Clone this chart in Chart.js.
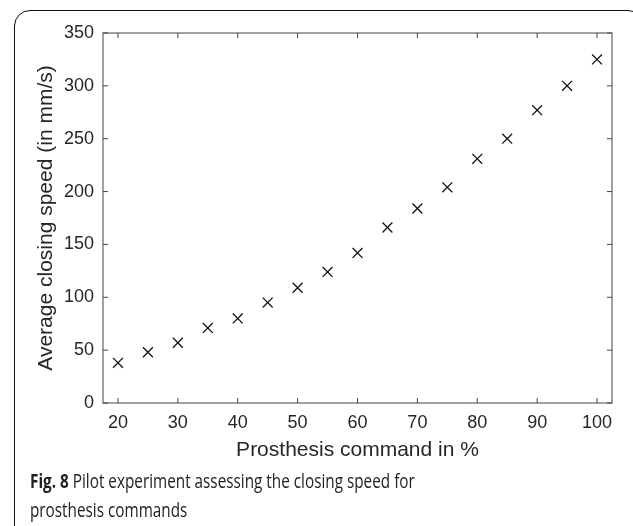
<!DOCTYPE html>
<html>
<head>
<meta charset="utf-8">
<script src="https://cdn.jsdelivr.net/npm/chart.js@4.4.1/dist/chart.umd.min.js"></script>
<style>
  body { margin: 0; background: #fff; width: 633px; height: 526px; overflow: hidden; position: relative; }
  #frame { position: absolute; left: 14px; top: 10px; width: 630px; height: 560px;
           border: 1.5px solid #111; border-radius: 16px; box-sizing: border-box; }
  #wrap { position: absolute; left: 0; top: 0; width: 633px; height: 470px; }
  #caption { position: absolute; left: 30px; top: 466px; font-family: "Open Sans", sans-serif;
             font-size: 20px; line-height: 29px; color: #222; white-space: nowrap;
             transform: scaleX(0.765); transform-origin: left top; }
  #caption b { font-weight: 700; }
</style>
</head>
<body>
<div id="frame"></div>
<div id="wrap"><canvas id="speedChart"></canvas></div>
<div id="caption"><b>Fig. 8</b> Pilot experiment assessing the closing speed for<br>prosthesis commands</div>
<script>
const commands = [20, 25, 30, 35, 40, 45, 50, 55, 60, 65, 70, 75, 80, 85, 90, 95, 100];
const closingSpeeds = [38, 48, 57, 71, 80, 95, 109, 124, 142, 166, 184, 204, 231, 250, 277, 300, 325];
const xTicks = [20, 30, 40, 50, 60, 70, 80, 90, 100];
const yTicks = [0, 50, 100, 150, 200, 250, 300, 350];

const axisColor = '#444';
const textColor = '#262626';

// box around the plot + inward ticks on all four sides (matlab style)
const boxPlugin = {
  id: 'boxTicks',
  afterDatasetsDraw(chart) {
    const {ctx, chartArea: a, scales} = chart;
    const len = 5;
    ctx.save();
    ctx.strokeStyle = axisColor;
    ctx.lineWidth = 1;
    ctx.strokeRect(a.left, a.top, a.right - a.left, a.bottom - a.top);
    ctx.beginPath();
    xTicks.forEach(v => {
      const px = scales.x.getPixelForValue(v);
      ctx.moveTo(px, a.bottom); ctx.lineTo(px, a.bottom - len);
      ctx.moveTo(px, a.top); ctx.lineTo(px, a.top + len);
    });
    yTicks.forEach(v => {
      const py = scales.y.getPixelForValue(v);
      ctx.moveTo(a.left, py); ctx.lineTo(a.left + len, py);
      ctx.moveTo(a.right, py); ctx.lineTo(a.right - len, py);
    });
    ctx.stroke();
    ctx.restore();
  }
};

new Chart(document.getElementById('speedChart'), {
  type: 'scatter',
  data: {
    datasets: [{
      data: commands.map((c, i) => ({x: c, y: closingSpeeds[i]})),
      pointStyle: 'crossRot',
      pointRadius: 7,
      borderColor: '#111',
      borderWidth: 1.3,
      backgroundColor: '#111'
    }]
  },
  options: {
    responsive: true,
    maintainAspectRatio: false,
    animation: false,
    layout: { padding: { left: 0, right: 21, top: 33, bottom: 0 } },
    plugins: { legend: { display: false }, tooltip: { enabled: false } },
    scales: {
      x: {
        type: 'linear',
        min: 17.5,
        max: 102.5,
        afterBuildTicks: s => { s.ticks = xTicks.map(v => ({value: v})); },
        afterFit: s => { s.height = 67; },
        grid: { drawOnChartArea: false, drawTicks: false },
        border: { display: false },
        ticks: { color: textColor, padding: 9, font: { family: 'Liberation Sans', size: 18 } },
        title: {
          display: true,
          text: 'Prosthesis command in %',
          color: textColor,
          padding: { top: 0, bottom: 7 },
          font: { family: 'Liberation Sans', size: 21 }
        }
      },
      y: {
        type: 'linear',
        min: 0,
        max: 350,
        afterBuildTicks: s => { s.ticks = yTicks.map(v => ({value: v})); },
        afterFit: s => { s.width = 103; },
        grid: { drawOnChartArea: false, drawTicks: false },
        border: { display: false },
        ticks: { color: textColor, padding: 9, font: { family: 'Liberation Sans', size: 18 } },
        title: {
          display: true,
          text: 'Average closing speed (in mm/s)',
          color: textColor,
          padding: { top: 34, bottom: 0 },
          font: { family: 'Liberation Sans', size: 21 }
        }
      }
    }
  },
  plugins: [boxPlugin]
});
</script>
</body>
</html>
